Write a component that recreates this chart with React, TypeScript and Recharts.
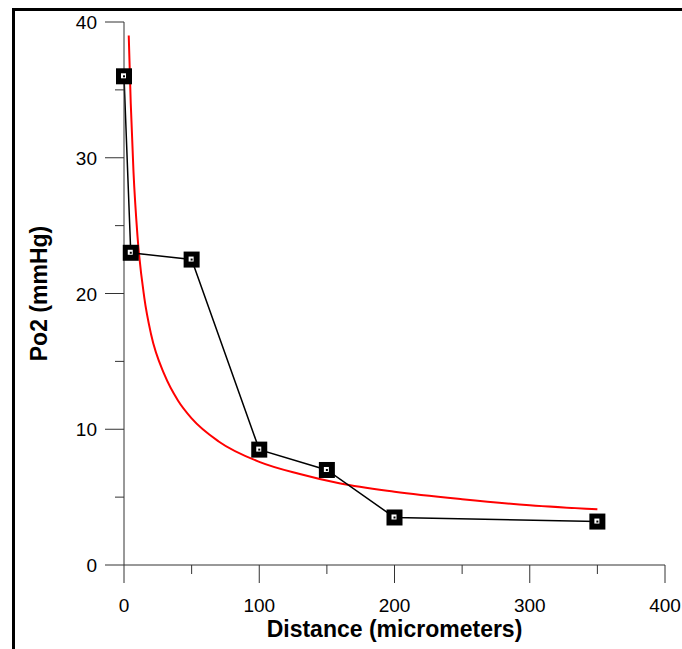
import React from 'react';
import { LineChart, Line, XAxis, YAxis } from 'recharts';

// measured points
const distance = [0, 5, 50, 100, 150, 200, 350];
const po2 = [36, 23, 22.5, 8.5, 7, 3.5, 3.2];

// red fitted curve
const fitDistance = [3.5, 5, 7, 10, 15, 20, 30, 40, 50, 70, 100, 130, 160, 200, 250, 300, 350];
const fitPo2 = [39, 34, 29, 24.2, 19.7, 17, 14, 12.1, 10.8, 9.1, 7.6, 6.7, 6.0, 5.4, 4.85, 4.4, 4.1];

const xTicks = [0, 50, 100, 150, 200, 250, 300, 350, 400];
const yTicks = [0, 5, 10, 15, 20, 25, 30, 35, 40];

const FONT = '"Liberation Sans", Arial, sans-serif';
const AXIS_COLOR = '#333';
const TICK_SIZE = 19;
const Y_MARGIN = 8;
const X_MARGIN = 14;

const measured = distance.map((x, i) => ({ x, y: po2[i] }));
const fitted = fitDistance.map((x, i) => ({ x, y: fitPo2[i] }));

const YTick = (props: any) => {
  const { x, y, payload } = props;
  const axisX = x + TICK_SIZE + Y_MARGIN;
  const major = payload.value % 10 === 0;
  return (
    <g>
      <line x1={axisX - (major ? 19 : 9)} x2={axisX} y1={y} y2={y} stroke={AXIS_COLOR} strokeWidth={1} />
      {major && (
        <text x={x} y={y} dy={7} textAnchor="end" fontSize={19} fontFamily={FONT} fill="#000">
          {payload.value}
        </text>
      )}
    </g>
  );
};

const XTick = (props: any) => {
  const { x, y, payload } = props;
  const axisY = y - TICK_SIZE - X_MARGIN;
  const major = payload.value % 100 === 0;
  return (
    <g>
      <line x1={x} x2={x} y1={axisY} y2={axisY + (major ? 18 : 9)} stroke={AXIS_COLOR} strokeWidth={1} />
      {major && (
        <text x={x} y={y} dy={14} textAnchor="middle" fontSize={19} fontFamily={FONT} fill="#000">
          {payload.value}
        </text>
      )}
    </g>
  );
};

const SquareDot = (props: any) => {
  const { cx, cy, index } = props;
  if (cx == null || cy == null) return <g key={`d-${index}`} />;
  return (
    <g key={`d-${index}`}>
      <rect x={cx - 8} y={cy - 8} width={16} height={16} fill="#000" />
      <rect x={cx - 3} y={cy - 3} width={5} height={5} fill="#fff" />
      <rect x={cx - 1} y={cy - 1} width={2} height={2} fill="#000" />
    </g>
  );
};

export default function App() {
  return (
    <div style={{ position: 'absolute', left: 0, top: 0, width: 682, height: 649, background: '#fff' }}>
      <div
        style={{
          position: 'absolute',
          left: 12,
          top: 8,
          width: 670,
          height: 641,
          borderTop: '3px solid #000',
          borderLeft: '3px solid #000',
          boxSizing: 'border-box',
        }}
      />
      <div style={{ position: 'absolute', left: 0, top: 0 }}>
        <LineChart width={682} height={649} margin={{ top: 22, right: 17, bottom: 0, left: 0 }}>
          <XAxis
            type="number"
            dataKey="x"
            domain={[0, 400]}
            ticks={xTicks}
            interval={0}
            height={84}
            tickSize={TICK_SIZE}
            tickMargin={X_MARGIN}
            tickLine={false}
            axisLine={{ stroke: AXIS_COLOR, strokeWidth: 1 }}
            tick={<XTick />}
            label={{
              content: (p: any) => (
                <text
                  x={p.viewBox.x + p.viewBox.width / 2}
                  y={p.viewBox.y + 72}
                  textAnchor="middle"
                  fontSize={23}
                  fontWeight="bold"
                  fontFamily={FONT}
                  fill="#000"
                >
                  Distance (micrometers)
                </text>
              ),
            }}
          />
          <YAxis
            type="number"
            domain={[0, 40]}
            ticks={yTicks}
            interval={0}
            width={124}
            tickSize={TICK_SIZE}
            tickMargin={Y_MARGIN}
            tickLine={false}
            axisLine={{ stroke: AXIS_COLOR, strokeWidth: 1 }}
            tick={<YTick />}
            label={{
              content: (p: any) => {
                const cx = p.viewBox.x + 39;
                const cy = p.viewBox.y + p.viewBox.height / 2;
                return (
                  <text
                    x={cx}
                    y={cy}
                    transform={`rotate(-90 ${cx} ${cy})`}
                    textAnchor="middle"
                    dominantBaseline="central"
                    fontSize={23}
                    fontWeight="bold"
                    fontFamily={FONT}
                    fill="#000"
                  >
                    Po2 (mmHg)
                  </text>
                );
              },
            }}
          />
          <Line
            data={fitted}
            dataKey="y"
            type="monotone"
            stroke="#ff0000"
            strokeWidth={2}
            dot={false}
            isAnimationActive={false}
          />
          <Line
            data={measured}
            dataKey="y"
            type="linear"
            stroke="#000"
            strokeWidth={1.5}
            dot={SquareDot}
            isAnimationActive={false}
          />
        </LineChart>
      </div>
    </div>
  );
}
